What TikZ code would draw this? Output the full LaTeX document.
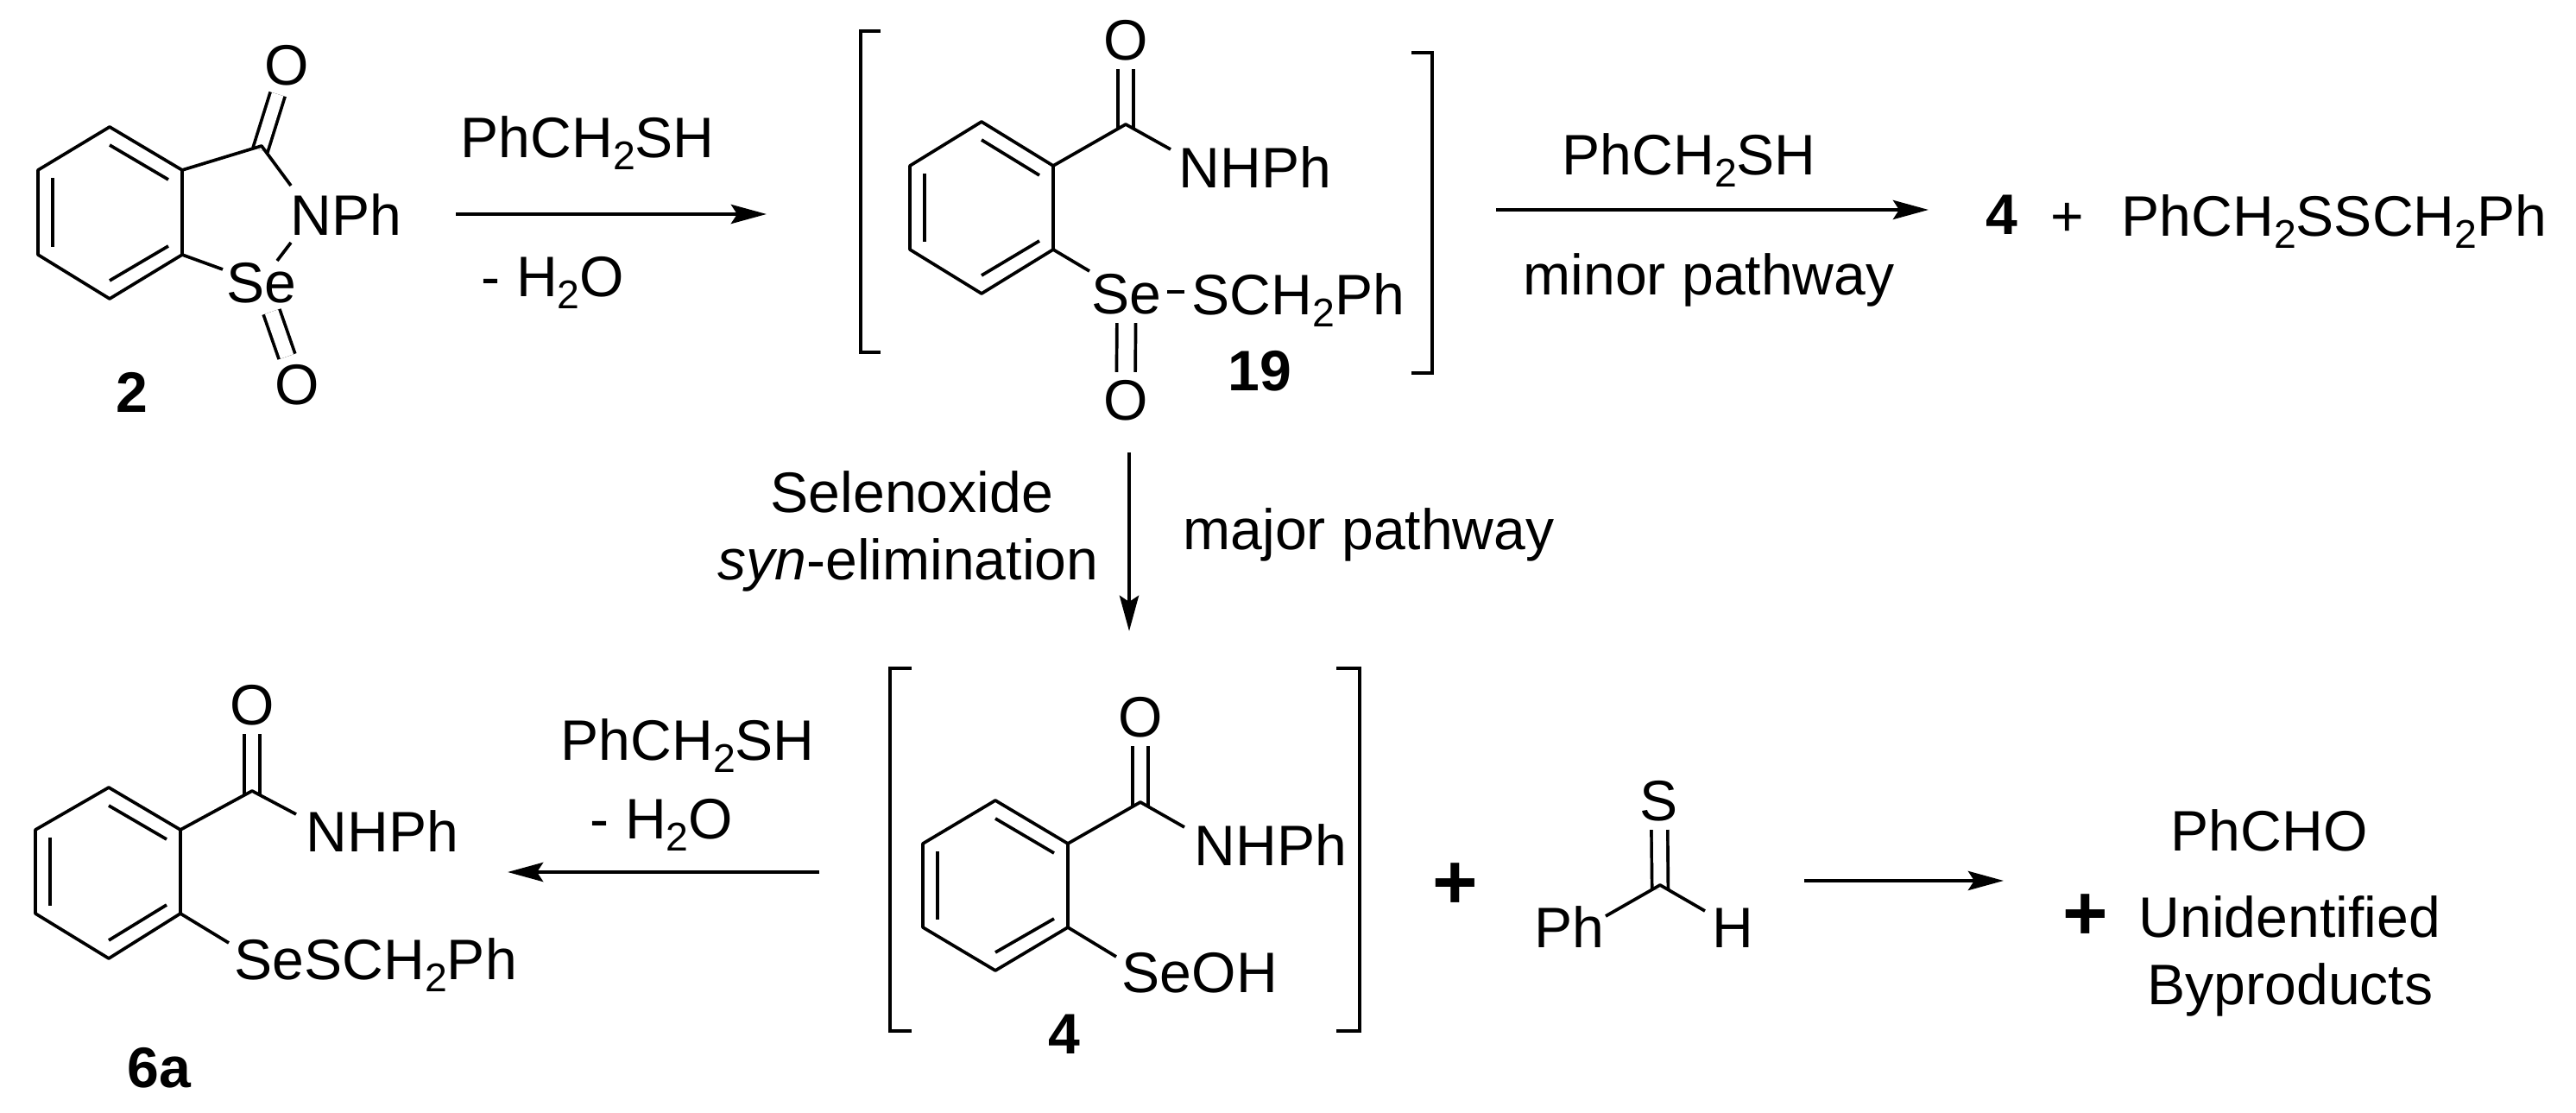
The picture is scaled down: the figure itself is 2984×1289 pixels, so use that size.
\documentclass[tikz,border=0pt]{standalone}
\usepackage{fontspec}
\setmainfont{Liberation Sans}
\usetikzlibrary{arrows.meta,calc}

\tikzset{
  bond/.style={line width=1.05pt,line join=round},
  dblbond/.style={double,line width=1.05pt,double distance=.14cm,shorten <=-.05cm},
  rxnarrow/.style={line width=1.35pt,-{Stealth[length=.41cm,width=.22cm,inset=.07cm]}},
  brk/.style={line width=1.25pt,line join=miter},
  lbl/.style={font=\fontsize{18.8}{22}\selectfont,inner sep=0pt,anchor=base west,xshift=-.03cm},
  lblr/.style={lbl,anchor=base east},
  atom/.style={font=\fontsize{18.8}{22}\selectfont,inner sep=.09cm},
  cmpd/.style={lbl,font=\bfseries\fontsize{18.8}{22}\selectfont,anchor=base},
  bigplus/.style={inner sep=0pt,anchor=base,font=\bfseries\fontsize{25.6}{28}\selectfont}
}
\newcommand{\subtwo}{\raisebox{-.2em}{\fontsize{13.2}{15}\selectfont 2}}
\newcommand{\benzring}[8]{
  \coordinate (#1top) at (#3,#5) ;
  \coordinate (#1ur) at (#4,#6) ;
  \coordinate (#1lr) at (#4,#7) ;
  \coordinate (#1bot) at (#3,#8) ;
  \coordinate (#1ll) at (#2,#7) ;
  \coordinate (#1ul) at (#2,#6) ;
  \draw[bond] (#1top) -- (#1ur) -- (#1lr) -- (#1bot) -- (#1ll) -- (#1ul) -- cycle ;
  \draw[bond] ($(#1top)+(0,21)$) -- ($(#1ur)+(-16,11)$) ;
  \draw[bond] ($(#1ul)+(17,9)$) -- ($(#1ll)+(17,-9)$) ;
  \draw[bond] ($(#1lr)+(-16,-10)$) -- ($(#1bot)+(0,-21)$) ;
}
\newcommand{\rxnbracket}[5]{
  \coordinate (#1a) at (#2,#4) ;
  \coordinate (#1b) at (#3,#4) ;
  \coordinate (#1c) at (#3,#5) ;
  \coordinate (#1d) at (#2,#5) ;
  \draw[brk] (#1a) -- (#1b) -- (#1c) -- (#1d) ;
}

\begin{document}
\begin{tikzpicture}[x=.01cm,y=-.01cm]
  \useasboundingbox (0,0) rectangle (2984,1289) ;

  \benzring{a}{44}{127}{211}{147}{197}{295}{346}
  \node[atom] (oa) at (332,76) {O} ;
  \node[atom] (sea) at (303,328) {Se} ;
  \node[atom] (oxa) at (344,446) {O} ;
  \node[lbl] (npha) at (339,273) {NPh} ;
  \node[cmpd] (cmpdtwo) at (156,478) {2} ;
  \coordinate (ca) at (303,169) ;
  \coordinate (na) at (337,215) ;
  \coordinate (nb) at (337,281) ;
  \coordinate (nc) at (321,302) ;
  \coordinate (sa) at (258,312) ;
  \draw[bond,dblbond] (ca) -- (oa) ;
  \draw[bond,dblbond,double distance=.16cm,shorten <=0pt] (sea) -- (oxa) ;
  \draw[bond] (aur) -- (ca) -- (na) ;
  \draw[bond] (nb) -- (nc) ;
  \draw[bond] (alr) -- (sa) ;

  \coordinate (ra) at (528,248) ;
  \coordinate (rb) at (888,248) ;
  \draw[rxnarrow] (ra) -- (rb) ;
  \node[lbl] (thiola) at (536,183) {PhCH\subtwo SH} ;
  \node[lbl] (watera) at (560,344) {- H\subtwo O} ;

  \rxnbracket{la}{1020}{997}{36}{408}
  \rxnbracket{lb}{1635}{1659}{61}{432}
  \benzring{b}{1054}{1137}{1220}{141}{192}{289}{340}
  \node[atom] (ob) at (1304,47) {O} ;
  \node[atom] (seb) at (1305,341) {Se} ;
  \node[atom] (oxb) at (1304,464) {O} ;
  \node[lbl] (nhphb) at (1368,218) {NHPh} ;
  \node[lbl] (schb) at (1383,365) {SCH\subtwo Ph} ;
  \node[cmpd] (cmpdnineteen) at (1462,453) {19} ;
  \coordinate (cb) at (1304,144) ;
  \coordinate (nhb) at (1356,173) ;
  \coordinate (sb) at (1262,314) ;
  \coordinate (sc) at (1352,338) ;
  \coordinate (sd) at (1372,338) ;
  \draw[bond,dblbond] (cb) -- (ob) ;
  \draw[bond,dblbond,double distance=.18cm,shorten <=0pt] (seb) -- (oxb) ;
  \draw[bond] (bur) -- (cb) -- (nhb) ;
  \draw[bond] (blr) -- (sb) ;
  \draw[bond] (sc) -- (sd) ;

  \coordinate (rc) at (1733,243) ;
  \coordinate (rd) at (2234,243) ;
  \draw[rxnarrow] (rc) -- (rd) ;
  \node[lbl] (thiolb) at (1812,203) {PhCH\subtwo SH} ;
  \node[lbl] (minor) at (1767,342) {minor pathway} ;
  \node[cmpd] (cmpdfoura) at (2322,272) {4} ;
  \node[lbl,anchor=base] (plusa) at (2398,274) {+} ;
  \node[lbl] (disulfide) at (2460,274) {PhCH\subtwo SSCH\subtwo Ph} ;

  \coordinate (re) at (1308,524) ;
  \coordinate (rf) at (1308,731) ;
  \draw[rxnarrow] (re) -- (rf) ;
  \node[lbl] (seleno) at (895,594) {Selenoxide} ;
  \node[lblr] (syn) at (1276,672) {\textit{syn}-elimination} ;
  \node[lbl] (major) at (1373,637) {major pathway} ;

  \benzring{d}{41}{126}{209}{912}{961}{1058}{1110}
  \node[atom] (od) at (292,817) {O} ;
  \node[lbl] (nhphd) at (357,987) {NHPh} ;
  \node[lbl] (sesd) at (274,1135) {SeSCH\subtwo Ph} ;
  \node[cmpd,anchor=base west] (cmpdsix) at (150,1260) {6a} ;
  \coordinate (cd) at (292,916) ;
  \coordinate (nhd) at (343,943) ;
  \coordinate (se) at (265,1092) ;
  \draw[bond,dblbond] (cd) -- (od) ;
  \draw[bond] (dur) -- (cd) -- (nhd) ;
  \draw[bond] (dlr) -- (se) ;

  \coordinate (rg) at (949,1010) ;
  \coordinate (rh) at (588,1010) ;
  \draw[rxnarrow] (rg) -- (rh) ;
  \node[lbl] (thiolc) at (652,881) {PhCH\subtwo SH} ;
  \node[lbl] (waterb) at (686,972) {- H\subtwo O} ;

  \rxnbracket{lc}{1056}{1031}{774}{1194}
  \rxnbracket{ld}{1548}{1575}{774}{1194}
  \benzring{c}{1069}{1153}{1237}{927}{977}{1074}{1124}
  \node[atom] (oc) at (1321,831) {O} ;
  \node[lbl] (nhphc) at (1386,1003) {NHPh} ;
  \node[lbl] (seoh) at (1302,1150) {SeOH} ;
  \node[cmpd] (cmpdfourb) at (1236,1221) {4} ;
  \coordinate (cc) at (1321,929) ;
  \coordinate (nhc) at (1372,958) ;
  \coordinate (sf) at (1293,1108) ;
  \draw[bond,dblbond] (cc) -- (oc) ;
  \draw[bond] (cur) -- (cc) -- (nhc) ;
  \draw[bond] (clr) -- (sf) ;

  \node[bigplus] (plusb) at (1686,1053) {+} ;
  \node[atom] (st) at (1922,928) {S} ;
  \node[lbl] (pht) at (1780,1098) {Ph} ;
  \node[lbl] (ht) at (1986,1098) {H} ;
  \coordinate (ct) at (1923,1025) ;
  \coordinate (cu) at (1860,1061) ;
  \coordinate (cv) at (1975,1055) ;
  \draw[bond,dblbond,double distance=.15cm] (ct) -- (st) ;
  \draw[bond] (cu) -- (ct) -- (cv) ;

  \coordinate (ri) at (2090,1020) ;
  \coordinate (rj) at (2321,1020) ;
  \draw[rxnarrow] (ri) -- (rj) ;
  \node[lbl] (phcho) at (2517,986) {PhCHO} ;
  \node[bigplus] (plusc) at (2416,1089) {+} ;
  \node[lbl] (unident) at (2480,1086) {Unidentified} ;
  \node[lbl] (byprod) at (2490,1163) {Byproducts} ;
\end{tikzpicture}
\end{document}
